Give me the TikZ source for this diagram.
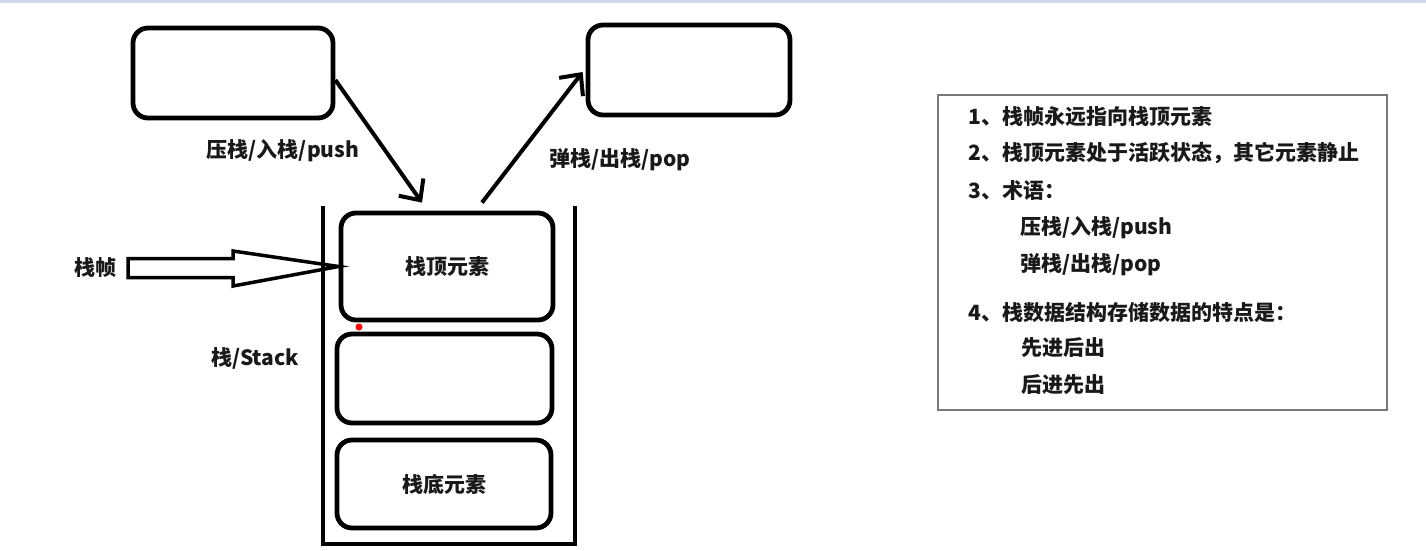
\documentclass[tikz,border=0pt]{standalone}
\usepackage{fontspec}
\setmainfont{Noto Sans CJK SC}
\usetikzlibrary{arrows.meta,calc}
\tikzset{
  rbox/.style={draw=black, line width=4.8pt, rounded corners=15pt, inner sep=0pt},
  conn/.style={line width=4pt, -{Straight Barb[length=16pt,width=30pt,line width=4pt]}},
  wall/.style={line width=4pt},
  lbl/.style={font=\fontsize{21pt}{25pt}\selectfont\bfseries, inner sep=0pt, text=black!90},
  note/.style={lbl, anchor=west},
}
\begin{document}
\begin{tikzpicture}[x=1pt,y=-1pt]
\useasboundingbox (0,0) rectangle (1426,550);
\fill[fill={rgb,255:red,208;green,216;blue,236}] (0,0) rectangle (1426,2.5);
% top boxes
\node[rbox, minimum width=200pt, minimum height=90pt] (src) at (233,73) {};
\node[rbox, minimum width=202pt, minimum height=90pt] (dst) at (689,70) {};
% stack elements
\node[rbox, minimum width=212pt, minimum height=107pt] (topel) at (447,266.5) {};
\node[lbl] (toptxt) at (topel.center) {栈顶元素};
\node[rbox, minimum width=215pt, minimum height=89pt] (midel) at (444.5,378.5) {};
\node[rbox, minimum width=214pt, minimum height=88pt] (botel) at (444,484) {};
\node[lbl] (bottxt) at (botel.center) {栈底元素};
% container
\coordinate (wl) at (323,206);
\coordinate (wr) at (575,206);
\draw[wall] (wl) -- (323,544) -- (575,544) -- (wr);
% arrows
\coordinate (pushend) at ($(topel.north)+(-25,-8)$);
\coordinate (pushstart) at ($(src.east)+(0,7)$);
\draw[conn] (pushstart) -- (pushend);
\coordinate (popstart) at ($(topel.north)+(35,-8)$);
\draw[conn] (popstart) -- ($(dst.west)+(-3,2)$);
\node[lbl] (pushlbl) at (283,151) {压栈/入栈/push};
\node[lbl] (poplbl) at (620,160) {弹栈/出栈/pop};
% frame pointer
\node[lbl] (frame) at (95,268) {栈帧};
\draw[line width=3.5pt, line join=miter] (128,258.5) -- (233,258.5) -- (233,251) -- (topel.west) -- (233,286) -- (233,277.5) -- (128,277.5) -- cycle;
\node[lbl] (stacklbl) at (255,358) {栈/Stack};
\fill[red] (359,327) circle (3.5pt);
% notes panel
\node[draw={rgb,255:red,120;green,120;blue,120}, line width=1.3pt, minimum width=449pt, minimum height=315pt, inner sep=0pt] (panel) at (1162.5,252.5) {};
\node[note] (n1) at (968,117) {1、栈帧永远指向栈顶元素};
\node[note] (n2) at (968,153) {2、栈顶元素处于活跃状态，其它元素静止};
\node[note] (n3) at (968,191) {3、术语：};
\node[note] (n3a) at (1020,228) {压栈/入栈/push};
\node[note] (n3b) at (1020,265) {弹栈/出栈/pop};
\node[note] (n4) at (968,312) {4、栈数据结构存储数据的特点是：};
\node[note] (n4a) at (1021,348) {先进后出};
\node[note] (n4b) at (1021,385) {后进先出};
\end{tikzpicture}
\end{document}
